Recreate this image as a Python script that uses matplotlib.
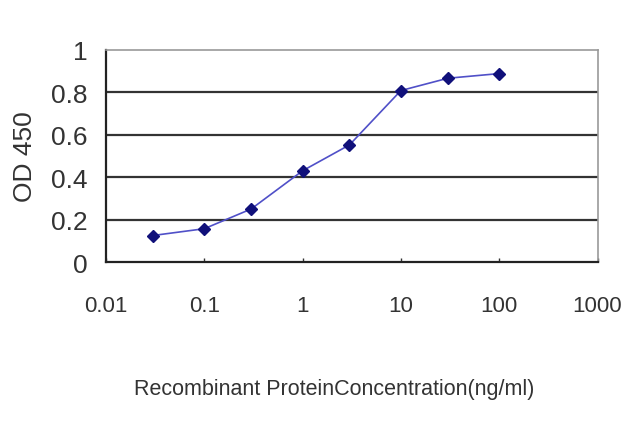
import matplotlib
matplotlib.use('Agg')
import matplotlib.pyplot as plt
from matplotlib.ticker import FixedLocator, FixedFormatter, NullLocator

conc = [0.03, 0.1, 0.3, 1, 3, 10, 30, 100]
od = [0.125, 0.157, 0.25, 0.43, 0.552, 0.808, 0.866, 0.888]
xticks = [0.01, 0.1, 1, 10, 100, 1000]
xlabels = ['0.01', '0.1', '1', '10', '100', '1000']
yticks = [0, 0.2, 0.4, 0.6, 0.8, 1]
ylabels = ['0', '0.2', '0.4', '0.6', '0.8', '1']

plt.rcParams['font.family'] = ['Liberation Sans', 'DejaVu Sans']

fig = plt.figure(figsize=(6.4, 4.27), dpi=100)
ax = fig.add_axes([0.1656, 0.384, 0.768, 0.497])

ax.set_xscale('log')
ax.set_xlim(0.01, 1000)
ax.set_ylim(0, 1)

# horizontal gridlines
for y in yticks[1:-1]:
    ax.axhline(y, color='#333333', linewidth=1.6, zorder=1)

ax.plot(conc, od, color='#5050c8', linewidth=1.2, zorder=3)
ax.plot(conc, od, linestyle='none', marker='D', markersize=6.5,
        color='#10107a', zorder=4)

for side in ['top', 'right']:
    ax.spines[side].set_color('#999999')
    ax.spines[side].set_linewidth(1.2)
for side in ['left', 'bottom']:
    ax.spines[side].set_color('#222222')
    ax.spines[side].set_linewidth(1.6)

ax.xaxis.set_major_locator(FixedLocator(xticks))
ax.xaxis.set_major_formatter(FixedFormatter(xlabels))
ax.xaxis.set_minor_locator(NullLocator())
ax.yaxis.set_major_locator(FixedLocator(yticks))
ax.yaxis.set_major_formatter(FixedFormatter(ylabels))

ax.tick_params(axis='x', direction='in', length=3, width=1, labelsize=16, pad=24, colors='#333333')
ax.tick_params(axis='y', length=0, labelsize=19, pad=13, colors='#333333')

ax.set_ylabel('OD 450', fontsize=19, color='#333333', labelpad=10)
ax.set_xlabel('Recombinant ProteinConcentration(ng/ml)', fontsize=15.5,
              color='#333333')
ax.xaxis.set_label_coords(0.465, -0.545)

fig.savefig('out.png', dpi=100, facecolor='white')
